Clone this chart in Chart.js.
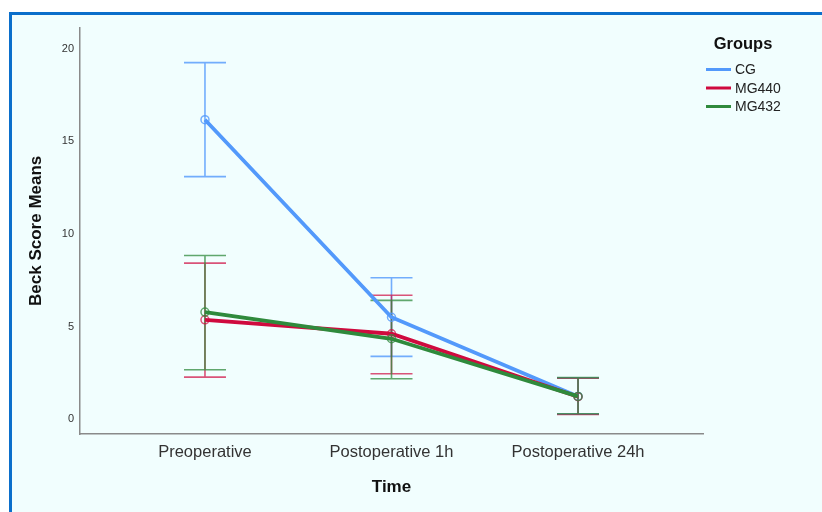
<!DOCTYPE html>
<html>
<head>
<meta charset="utf-8">
<script src="https://cdn.jsdelivr.net/npm/chart.js@4.4.1/dist/chart.umd.min.js"></script>
<style>
    html, body { margin: 0; padding: 0; background: #fff; width: 822px; height: 512px; overflow: hidden; }
    #frame {
        position: absolute; left: 9px; top: 12px; width: 813px; height: 500px;
        border-top: 3px solid #0B6FCB; border-left: 3px solid #0B6FCB;
        background: #F1FEFE; box-sizing: border-box;
    }
    #chart { display: block; }
</style>
</head>
<body>
<div id="frame"><canvas id="chart" width="810" height="497"></canvas></div>
<script>
// Beck score means by time point, with 95% CI
const timePoints = ['Preoperative', 'Postoperative 1h', 'Postoperative 24h'];
const groupNames = ['CG', 'MG440', 'MG432'];
const yTicks = [0, 5, 10, 15, 20];

const cgMeans = [16.17, 5.51, 1.24];
const cgLow = [13.1, 3.40, 0.28];
const cgHigh = [19.25, 7.64, 2.24];

const mg440Means = [5.37, 4.62, 1.22];
const mg440Low = [2.28, 2.46, 0.26];
const mg440High = [8.43, 6.70, 2.22];

const mg432Means = [5.79, 4.35, 1.24];
const mg432Low = [2.68, 2.19, 0.30];
const mg432High = [8.84, 6.42, 2.25];

const lineColors = ['#5399FB', '#CF0A3E', '#2F8A3C'];
const barColors = ['rgba(83,153,251,0.8)', 'rgba(207,10,62,0.7)', 'rgba(47,138,60,0.75)'];

const means = [cgMeans, mg440Means, mg432Means];
const lows = [cgLow, mg440Low, mg432Low];
const highs = [cgHigh, mg440High, mg432High];

const FONT = '"Liberation Sans", Arial, sans-serif';

const datasets = groupNames.map((name, i) => ({
    label: name,
    data: means[i].map((v, j) => ({ x: j, y: v })),
    borderColor: lineColors[i],
    borderWidth: 3.8,
    pointRadius: 4,
    pointBorderWidth: 1.5,
    pointBackgroundColor: 'rgba(0,0,0,0)',
    pointBorderColor: barColors[i],
    tension: 0,
    order: 3 - i
}));

// 오차막대 (95% CI) - 스케일 기준으로 그림
const errorBars = {
    id: 'errorBars',
    beforeDatasetsDraw(chart) {
        const { ctx, scales: { x, y } } = chart;
        ctx.save();
        ctx.lineWidth = 1.6;
        groupNames.forEach((_, i) => {
            ctx.strokeStyle = barColors[i];
            means[i].forEach((_, j) => {
                const px = x.getPixelForValue(j);
                const top = y.getPixelForValue(highs[i][j]);
                const bot = y.getPixelForValue(lows[i][j]);
                ctx.beginPath();
                ctx.moveTo(px, top); ctx.lineTo(px, bot);
                ctx.moveTo(px - 21, top); ctx.lineTo(px + 21, top);
                ctx.moveTo(px - 21, bot); ctx.lineTo(px + 21, bot);
                ctx.stroke();
            });
        });
        ctx.restore();
    }
};

// 범례 (Groups)
const groupLegend = {
    id: 'groupLegend',
    afterDraw(chart) {
        const ctx = chart.ctx;
        const left = chart.chartArea.right + 3;
        ctx.save();
        ctx.fillStyle = '#111';
        ctx.font = 'bold 16.5px ' + FONT;
        ctx.textAlign = 'center';
        ctx.textBaseline = 'middle';
        ctx.fillText('Groups', left + 37, 29);
        ctx.font = '14px ' + FONT;
        ctx.textAlign = 'left';
        groupNames.forEach((name, i) => {
            const yy = 54.5 + i * 18.5;
            ctx.strokeStyle = lineColors[i];
            ctx.lineWidth = 3;
            ctx.beginPath();
            ctx.moveTo(left, yy); ctx.lineTo(left + 25, yy);
            ctx.stroke();
            ctx.fillStyle = '#222';
            ctx.fillText(name, left + 29, yy + 1);
        });
        ctx.restore();
    }
};

new Chart(document.getElementById('chart'), {
    type: 'line',
    data: { datasets },
    options: {
        responsive: false,
        animation: false,
        layout: { padding: { left: 0, right: 119, top: 12, bottom: 0 } },
        plugins: { legend: { display: false }, tooltip: { enabled: false } },
        scales: {
            x: {
                type: 'linear',
                min: -0.67, max: 2.67,
                grid: { display: false, drawTicks: false },
                border: { color: '#8a8a8a', width: 1.5 },
                afterBuildTicks: s => { s.ticks = timePoints.map((_, j) => ({ value: j })); },
                afterFit: s => { s.height = 78; },
                ticks: {
                    padding: 9,
                    color: '#333',
                    font: { size: 16.5, family: FONT },
                    callback: v => timePoints[v]
                },
                title: {
                    display: true, text: 'Time', color: '#111',
                    font: { size: 17, weight: 'bold', family: FONT },
                    padding: { top: 0, bottom: 14.5 }
                }
            },
            y: {
                min: -0.79, max: 21.14,
                grid: { display: false, drawTicks: false },
                border: { color: '#8a8a8a', width: 1.5 },
                afterBuildTicks: s => { s.ticks = yTicks.map(v => ({ value: v })); },
                afterFit: s => { s.width = 68; },
                ticks: {
                    padding: 6,
                    color: '#333',
                    font: { size: 11, family: FONT }
                },
                title: {
                    display: true, text: 'Beck Score Means', color: '#111',
                    font: { size: 17, weight: 'bold', family: FONT },
                    padding: { top: 14.5, bottom: 0 }
                }
            }
        }
    },
    plugins: [errorBars, groupLegend]
});
</script>
</body>
</html>
